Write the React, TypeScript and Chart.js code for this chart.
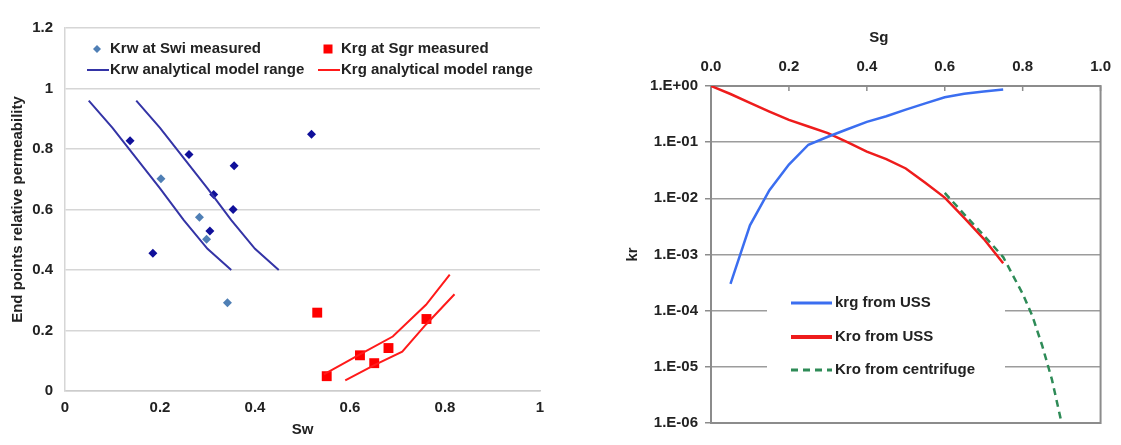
import React, { useEffect, useRef } from 'react';
import { Chart, registerables } from 'chart.js';

Chart.register(...registerables);

// ---------- Left chart data ----------
const swTickValues = [0, 0.2, 0.4, 0.6, 0.8, 1];
const endPointTickValues = [0, 0.2, 0.4, 0.6, 0.8, 1, 1.2];

const krwMeasuredSw = [0.202, 0.283, 0.298, 0.342];
const krwMeasuredKr = [0.702, 0.574, 0.502, 0.292];

const krwOtherSw = [0.137, 0.261, 0.356, 0.519, 0.313, 0.354, 0.305, 0.185];
const krwOtherKr = [0.827, 0.782, 0.745, 0.849, 0.65, 0.6, 0.529, 0.455];

const krgMeasuredSw = [0.531, 0.761, 0.681, 0.621, 0.651, 0.551];
const krgMeasuredKr = [0.259, 0.238, 0.142, 0.118, 0.092, 0.049];

const krwModelLowSw = [0.05, 0.1, 0.15, 0.2, 0.25, 0.3, 0.35];
const krwModelLowKr = [0.96, 0.87, 0.77, 0.67, 0.565, 0.47, 0.4];
const krwModelHighSw = [0.15, 0.2, 0.25, 0.3, 0.35, 0.4, 0.45];
const krwModelHighKr = [0.96, 0.87, 0.77, 0.67, 0.565, 0.47, 0.4];

const krgModelUpperSw = [0.545, 0.62, 0.69, 0.76, 0.81];
const krgModelUpperKr = [0.055, 0.12, 0.18, 0.285, 0.385];
const krgModelLowerSw = [0.59, 0.65, 0.71, 0.76, 0.82];
const krgModelLowerKr = [0.035, 0.085, 0.13, 0.22, 0.32];

// ---------- Right chart data ----------
const sgTickValues = [0, 0.2, 0.4, 0.6, 0.8, 1.0];
const krDecadeTicks = [1, 1e-1, 1e-2, 1e-3, 1e-4, 1e-5, 1e-6];

const krgUssSg = [0.05, 0.1, 0.15, 0.2, 0.25, 0.3, 0.35, 0.4, 0.45, 0.5, 0.55, 0.6, 0.65, 0.7, 0.75];
const krgUssKr = [3.0e-4, 3.3e-3, 0.014, 0.04, 0.09, 0.125, 0.17, 0.23, 0.29, 0.38, 0.49, 0.63, 0.73, 0.8, 0.87];

const kroUssSg = [0, 0.05, 0.1, 0.15, 0.2, 0.25, 0.3, 0.35, 0.4, 0.45, 0.5, 0.55, 0.6, 0.65, 0.7, 0.75];
const kroUssKr = [1, 0.72, 0.5, 0.35, 0.25, 0.19, 0.145, 0.1, 0.068, 0.05, 0.034, 0.019, 0.0103, 0.0045, 0.0019, 0.0007];

const kroCentSg = [0.6, 0.65, 0.7, 0.75, 0.8, 0.825, 0.85, 0.875, 0.9];
const kroCentKr = [0.0125, 0.0052, 0.0022, 9e-4, 2e-4, 8e-5, 2.4e-5, 6e-6, 1e-6];

const FONT = 'Liberation Sans, Arial, Helvetica, sans-serif';
const TEXT = '#222222';

Chart.defaults.font.family = FONT;

const toXY = (xs: number[], ys: number[]) => xs.map((x, i) => ({ x, y: ys[i] }));
const fmtDec = (v: number) => String(Math.round(v * 10) / 10);
const fmtExp = (v: number) => {
  const e = Math.round(Math.log10(v));
  const a = Math.abs(e);
  return '1.E' + (e >= 0 ? '+' : '-') + (a < 10 ? '0' + a : String(a));
};

// custom in-plot legend for left chart
const leftLegendPlugin = {
  id: 'leftLegend',
  afterDatasetsDraw(chart: any) {
    const opts = chart.options.plugins.leftLegend;
    if (!opts) return;
    const { ctx, chartArea } = chart;
    ctx.save();
    ctx.font = `bold ${opts.fontSize}px ${FONT}`;
    ctx.fillStyle = TEXT;
    ctx.textBaseline = 'middle';
    ctx.textAlign = 'left';
    for (const it of opts.items) {
      const ds = chart.data.datasets[it.ds];
      const x0 = chartArea.left + it.dx;
      const y = chartArea.top + it.dy;
      if (it.kind === 'line') {
        ctx.strokeStyle = ds.borderColor;
        ctx.lineWidth = ds.borderWidth;
        ctx.beginPath();
        ctx.moveTo(x0, y);
        ctx.lineTo(x0 + 22, y);
        ctx.stroke();
      } else if (it.kind === 'diamond') {
        const r = 4;
        const cx = x0 + 10;
        ctx.fillStyle = ds.backgroundColor;
        ctx.beginPath();
        ctx.moveTo(cx, y - r);
        ctx.lineTo(cx + r, y);
        ctx.lineTo(cx, y + r);
        ctx.lineTo(cx - r, y);
        ctx.closePath();
        ctx.fill();
      } else {
        const cx = x0 + 10;
        ctx.fillStyle = ds.backgroundColor;
        ctx.fillRect(cx - 4.5, y - 4.5, 9, 9);
      }
      ctx.fillStyle = TEXT;
      ctx.fillText(it.text, x0 + 23, y);
    }
    ctx.restore();
  },
};

// frame, inside ticks, legend box and top title for right chart
const rightDecorPlugin = {
  id: 'rightDecor',
  beforeDatasetsDraw(chart: any) {
    const opts = chart.options.plugins.rightDecor;
    const { ctx, chartArea, scales } = chart;
    ctx.save();
    // frame
    ctx.strokeStyle = '#8c8c8c';
    ctx.lineWidth = 2;
    ctx.strokeRect(chartArea.left, chartArea.top, chartArea.right - chartArea.left, chartArea.bottom - chartArea.top);
    // inside tick marks on top axis
    ctx.lineWidth = 1.5;
    for (const t of scales.x.ticks) {
      const px = scales.x.getPixelForValue(t.value);
      ctx.beginPath();
      ctx.moveTo(px, chartArea.top);
      ctx.lineTo(px, chartArea.top + 5);
      ctx.stroke();
    }
    // legend box
    const bx = chartArea.left + opts.box[0];
    const by = chartArea.top + opts.box[1];
    ctx.fillStyle = '#ffffff';
    ctx.fillRect(bx, by, opts.box[2], opts.box[3]);
    ctx.font = `bold ${opts.fontSize}px ${FONT}`;
    ctx.textBaseline = 'middle';
    ctx.textAlign = 'left';
    for (const it of opts.items) {
      const ds = chart.data.datasets[it.ds];
      const x0 = chartArea.left + opts.lineX;
      const y = chartArea.top + it.dy;
      ctx.strokeStyle = ds.borderColor;
      ctx.lineWidth = it.lw;
      ctx.setLineDash(ds.borderDash || []);
      ctx.beginPath();
      ctx.moveTo(x0, y);
      ctx.lineTo(x0 + 41, y);
      ctx.stroke();
      ctx.setLineDash([]);
      ctx.fillStyle = TEXT;
      ctx.fillText(ds.label, x0 + 44, y);
    }
    ctx.restore();
  },
  afterDraw(chart: any) {
    const opts = chart.options.plugins.rightDecor;
    const { ctx, chartArea } = chart;
    ctx.save();
    ctx.font = `bold ${opts.fontSize}px ${FONT}`;
    ctx.fillStyle = TEXT;
    ctx.textAlign = 'center';
    ctx.textBaseline = 'middle';
    ctx.fillText(opts.title, (chartArea.left + chartArea.right) / 2 + opts.titleDx, opts.titleY);
    ctx.restore();
  },
};

const BLUE_LINE = '#3434a6';
const RED = '#ff1a1a';

function leftConfig(): any {
  return {
    type: 'scatter',
    data: {
      datasets: [
        { label: 'Krw analytical model range', data: toXY(krwModelLowSw, krwModelLowKr), showLine: true, borderColor: BLUE_LINE, borderWidth: 2, pointRadius: 0 },
        { label: 'Krw analytical model range (2)', data: toXY(krwModelHighSw, krwModelHighKr), showLine: true, borderColor: BLUE_LINE, borderWidth: 2, pointRadius: 0 },
        { label: 'Krg analytical model range', data: toXY(krgModelUpperSw, krgModelUpperKr), showLine: true, borderColor: RED, borderWidth: 2, pointRadius: 0 },
        { label: 'Krg analytical model range (2)', data: toXY(krgModelLowerSw, krgModelLowerKr), showLine: true, borderColor: RED, borderWidth: 2, pointRadius: 0 },
        { label: 'Krw at Swi (other)', data: toXY(krwOtherSw, krwOtherKr), pointStyle: 'rectRot', pointRadius: 4.5, backgroundColor: '#10109a', borderWidth: 0 },
        { label: 'Krw at Swi measured', data: toXY(krwMeasuredSw, krwMeasuredKr), pointStyle: 'rectRot', pointRadius: 4.5, backgroundColor: '#4f7fb5', borderWidth: 0 },
        { label: 'Krg at Sgr measured', data: toXY(krgMeasuredSw, krgMeasuredKr), pointStyle: 'rect', pointRadius: 7, backgroundColor: '#ff0000', borderWidth: 0 },
      ],
    },
    options: {
      responsive: false,
      animation: false,
      events: [],
      layout: { padding: { left: 0, right: 20, top: 28, bottom: 0 } },
      plugins: {
        legend: { display: false },
        tooltip: { enabled: false },
        leftLegend: {
          fontSize: 15,
          items: [
            { ds: 5, kind: 'diamond', dx: 22, dy: 21, text: 'Krw at Swi measured' },
            { ds: 0, kind: 'line', dx: 22, dy: 42, text: 'Krw analytical model range' },
            { ds: 6, kind: 'square', dx: 253, dy: 21, text: 'Krg at Sgr measured' },
            { ds: 2, kind: 'line', dx: 253, dy: 42, text: 'Krg analytical model range' },
          ],
        },
      },
      scales: {
        x: {
          type: 'linear',
          min: 0,
          max: 1,
          afterBuildTicks: (s: any) => { s.ticks = swTickValues.map((v) => ({ value: v })); },
          afterFit: (s: any) => { s.height = 54; },
          grid: { display: false, drawTicks: false },
          border: { display: true, color: '#cccccc', width: 1.5 },
          ticks: { padding: 8, color: TEXT, font: { size: 15, weight: 'bold' }, callback: (v: number) => fmtDec(v), maxRotation: 0 },
          title: { display: true, text: 'Sw', color: TEXT, font: { size: 15, weight: 'bold' }, padding: { top: 0, bottom: 6 } },
        },
        y: {
          type: 'linear',
          min: 0,
          max: 1.2,
          afterBuildTicks: (s: any) => { s.ticks = endPointTickValues.map((v) => ({ value: v })); },
          afterFit: (s: any) => { s.width = 65; },
          grid: { color: '#d6d6d6', lineWidth: 1.5, drawTicks: false },
          border: { display: true, color: '#d6d6d6', width: 1.5 },
          ticks: { padding: 12, color: TEXT, font: { size: 15, weight: 'bold' }, callback: (v: number) => fmtDec(v) },
          title: { display: true, text: 'End points relative permeability', color: TEXT, font: { size: 15, weight: 'bold' }, padding: { top: 9, bottom: 0 } },
        },
      },
    },
    plugins: [leftLegendPlugin],
  };
}

function rightConfig(): any {
  return {
    type: 'scatter',
    data: {
      datasets: [
        { label: 'Kro from centrifuge', data: toXY(kroCentSg, kroCentKr), showLine: true, borderColor: '#2e8b57', borderWidth: 2.5, borderDash: [7, 5], pointRadius: 0 },
        { label: 'krg from USS', data: toXY(krgUssSg, krgUssKr), showLine: true, borderColor: '#3b6ef0', borderWidth: 2.5, pointRadius: 0 },
        { label: 'Kro from USS', data: toXY(kroUssSg, kroUssKr), showLine: true, borderColor: '#ee1c1c', borderWidth: 2.5, pointRadius: 0 },
      ],
    },
    options: {
      responsive: false,
      animation: false,
      events: [],
      layout: { padding: { left: 0, right: 12, top: 0, bottom: 22 } },
      plugins: {
        legend: { display: false },
        tooltip: { enabled: false },
        rightDecor: {
          fontSize: 15,
          title: 'Sg',
          titleDx: -27,
          titleY: 38,
          box: [56, 199, 238, 107],
          lineX: 80,
          items: [
            { ds: 1, dy: 217, lw: 3 },
            { ds: 2, dy: 251, lw: 4 },
            { ds: 0, dy: 284, lw: 3 },
          ],
        },
      },
      scales: {
        x: {
          type: 'linear',
          position: 'top',
          min: 0,
          max: 1,
          afterBuildTicks: (s: any) => { s.ticks = sgTickValues.map((v) => ({ value: v })); },
          afterFit: (s: any) => { s.height = 86; },
          grid: { display: false, drawTicks: false },
          border: { display: true, color: '#8c8c8c', width: 2 },
          ticks: { padding: 10, color: TEXT, font: { size: 15, weight: 'bold' }, callback: (v: number) => v.toFixed(1), maxRotation: 0 },
        },
        y: {
          type: 'logarithmic',
          min: 1e-6,
          max: 1,
          afterBuildTicks: (s: any) => { s.ticks = krDecadeTicks.map((v) => ({ value: v })); },
          afterFit: (s: any) => { s.width = 151; },
          grid: { color: '#9c9c9c', lineWidth: 1.5, drawTicks: true, tickLength: 6, tickColor: '#8c8c8c' },
          border: { display: true, color: '#8c8c8c', width: 2 },
          ticks: { padding: 7, color: TEXT, font: { size: 15, weight: 'bold' }, callback: (v: number) => fmtExp(v), autoSkip: false },
          title: { display: true, text: 'kr', color: TEXT, font: { size: 15, weight: 'bold' }, padding: { top: 64, bottom: 0 } },
        },
      },
    },
    plugins: [rightDecorPlugin],
  };
}

export default function App() {
  const leftRef = useRef<HTMLCanvasElement>(null);
  const rightRef = useRef<HTMLCanvasElement>(null);

  useEffect(() => {
    const left = new Chart(leftRef.current as HTMLCanvasElement, leftConfig());
    const right = new Chart(rightRef.current as HTMLCanvasElement, rightConfig());
    return () => {
      left.destroy();
      right.destroy();
    };
  }, []);

  return (
    <div style={{ position: 'absolute', left: 0, top: 0, width: 1121, height: 445, background: '#ffffff' }}>
      <canvas ref={leftRef} width={560} height={445} style={{ position: 'absolute', left: 0, top: 0, width: 560, height: 445 }} />
      <canvas ref={rightRef} width={561} height={445} style={{ position: 'absolute', left: 560, top: 0, width: 561, height: 445 }} />
    </div>
  );
}
